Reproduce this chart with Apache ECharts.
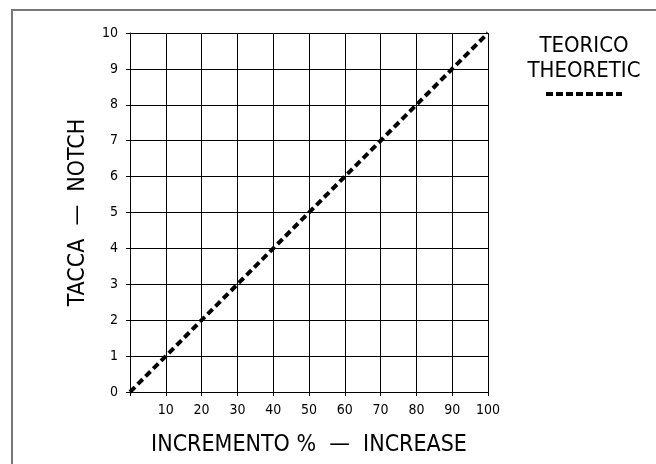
<!DOCTYPE html>
<html><head><meta charset="utf-8">
<script src="https://cdn.jsdelivr.net/npm/echarts@6/dist/echarts.min.js"></script>
<style>html,body{margin:0;padding:0;background:#fff}#c{width:656px;height:464px}</style>
</head><body><div id="c"></div>
<script>
const xValues = [0, 100];
const yValues = [0, 10];
const xTitle = 'INCREMENTO %  —  INCREASE';
const yTitle = 'TACCA  —  NOTCH';
const legendLines = ['TEORICO', 'THEORETIC'];
const FONT = '"DejaVu Sans Condensed", sans-serif';

const chart = echarts.init(document.getElementById('c'));
chart.setOption({
  animation: false,
  backgroundColor: '#fff',
  grid: {left: 130, top: 33, width: 358, height: 359, show: false},
  xAxis: {
    type: 'value', min: 0, max: 100, interval: 10,
    axisLine: {show: true, lineStyle: {color: '#000', width: 1}},
    axisTick: {show: true, length: 4, lineStyle: {color: '#000'}},
    axisLabel: {color: '#000', fontSize: 14, fontFamily: FONT, margin: 11,
      formatter: v => v === 0 ? '' : String(v)},
    splitLine: {show: true, lineStyle: {color: '#000', width: 1}},
    name: xTitle, nameLocation: 'middle', nameGap: 42,
    nameTextStyle: {color: '#000', fontSize: 23, fontFamily: FONT}
  },
  yAxis: {
    type: 'value', min: 0, max: 10, interval: 1,
    axisLine: {show: true, lineStyle: {color: '#000', width: 1}},
    axisTick: {show: true, length: 4, lineStyle: {color: '#000'}},
    axisLabel: {color: '#000', fontSize: 14, fontFamily: FONT, margin: 12},
    splitLine: {show: true, lineStyle: {color: '#000', width: 1}},
    name: yTitle, nameLocation: 'middle', nameGap: 40,
    nameTextStyle: {color: '#000', fontSize: 23, fontFamily: FONT}
  },
  series: [{
    type: 'line',
    data: xValues.map((x, i) => [x, yValues[i]]),
    showSymbol: false,
    lineStyle: {color: '#000', width: 4, type: [7, 4]}
  }],
  graphic: [
    {type: 'rect', shape: {x: 12, y: 10, width: 700, height: 500}, style: {fill: 'none', stroke: '#777', lineWidth: 2}, silent: true},
    {type: 'text', x: 584, y: 35, style: {text: legendLines[0], font: '22px ' + FONT, fill: '#000', align: 'center'}},
    {type: 'text', x: 584, y: 60, style: {text: legendLines[1], font: '22px ' + FONT, fill: '#000', align: 'center'}},
    {type: 'line', shape: {x1: 546, y1: 94, x2: 622, y2: 94}, style: {stroke: '#000', lineWidth: 4, lineDash: [7, 3]}}
  ]
});
</script></body></html>
